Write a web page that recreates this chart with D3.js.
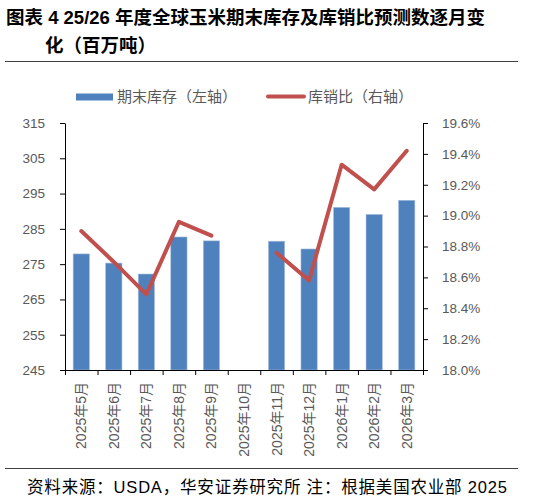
<!DOCTYPE html>
<html>
<head>
<meta charset="utf-8">
<script src="https://cdn.jsdelivr.net/npm/d3@7"></script>
<style>
  body { margin: 0; background: #fff; }
  text { font-family: "Liberation Sans", "Noto Sans CJK SC", sans-serif; }
</style>
</head>
<body>
<div id="chart"></div>
<script>
'use strict';

// data
const months = ["2025年5月", "2025年6月", "2025年7月", "2025年8月", "2025年9月", "2025年10月",
  "2025年11月", "2025年12月", "2026年1月", "2026年2月", "2026年3月"];
const stocks = [277.9, 275.3, 272.2, 282.7, 281.6, null, 281.5, 279.3, 291.1, 289.1, 293.1];
const ratio = [18.90, 18.70, 18.49, 18.96, 18.87, null, 18.76, 18.58, 19.33, 19.17, 19.42];
const leftTicks = [245, 255, 265, 275, 285, 295, 305, 315];
const rightTicks = [18.0, 18.2, 18.4, 18.6, 18.8, 19.0, 19.2, 19.4, 19.6];

const W = 541, H = 500;
const plot = {left: 65, right: 423, top: 123, bottom: 370};
const grey = "#595959";

const svg = d3.select("#chart").append("svg")
  .attr("width", W)
  .attr("height", H);

// title
const title = svg.append("text")
  .attr("font-family", "'Noto Sans CJK SC', sans-serif")
  .attr("font-weight", "bold")
  .attr("font-size", 18.5)
  .attr("fill", "#000");
title.append("tspan").attr("x", 6).attr("y", 24).text("图表 4 25/26 年度全球玉米期末库存及库销比预测数逐月变");
title.append("tspan").attr("x", 45).attr("y", 52).text("化（百万吨）");

svg.append("line")
  .attr("x1", 5).attr("x2", 518).attr("y1", 61.5).attr("y2", 61.5)
  .attr("stroke", "#404040").attr("stroke-width", 1);

// scales
const x = d3.scaleBand().domain(months)
  .range([plot.left, plot.right])
  .paddingInner(0.5).paddingOuter(0.25);
const xEdge = d3.scaleLinear().domain([0, months.length]).range([plot.left, plot.right]);
const yL = d3.scaleLinear().domain([245, 315]).range([plot.bottom, plot.top]);
const yR = d3.scaleLinear().domain([18.0, 19.6]).range([plot.bottom, plot.top]);

// bars
svg.append("g").selectAll("rect")
  .data(months.map((m, i) => ({m, v: stocks[i]})).filter(d => d.v != null))
  .enter().append("rect")
  .attr("x", d => x(d.m))
  .attr("y", d => yL(d.v))
  .attr("width", x.bandwidth())
  .attr("height", d => yL(245) - yL(d.v))
  .attr("fill", "#4F81BD")
  .attr("stroke", "#a9c0de")
  .attr("stroke-width", 0.6);

// line
const line = d3.line()
  .defined(d => d.v != null)
  .x(d => x(d.m) + x.bandwidth() / 2)
  .y(d => yR(d.v));
svg.append("path")
  .datum(months.map((m, i) => ({m, v: ratio[i]})))
  .attr("d", line)
  .attr("fill", "none")
  .attr("stroke", "#C0504D")
  .attr("stroke-width", 4)
  .attr("stroke-linecap", "round")
  .attr("stroke-linejoin", "round");

// axes
const styleAxis = g => {
  g.select(".domain").attr("stroke", "#000");
  g.selectAll(".tick line").attr("stroke", "#000");
  g.selectAll(".tick text").attr("fill", grey).attr("font-size", 13.5);
};

svg.append("g")
  .attr("transform", `translate(${plot.left},0)`)
  .call(d3.axisLeft(yL).tickValues(leftTicks).tickSize(5).tickSizeOuter(0).tickPadding(15))
  .call(styleAxis);

svg.append("g")
  .attr("transform", `translate(${plot.right},0)`)
  .call(d3.axisRight(yR).tickValues(rightTicks).tickSize(5).tickSizeOuter(0).tickPadding(14)
    .tickFormat(d => d.toFixed(1) + "%"))
  .call(styleAxis);

svg.append("g")
  .attr("transform", `translate(0,${plot.bottom})`)
  .call(d3.axisBottom(xEdge).tickValues(d3.range(0, months.length + 1)).tickSize(5).tickSizeOuter(0).tickFormat(""))
  .call(styleAxis);

// category labels
svg.append("g").selectAll("text")
  .data(months)
  .enter().append("text")
  .attr("transform", d => `translate(${x(d) + x.bandwidth() / 2 + 5},382) rotate(-90)`)
  .attr("text-anchor", "end")
  .attr("font-size", 14)
  .attr("fill", grey)
  .text(d => d);

// legend
svg.append("rect")
  .attr("x", 76).attr("y", 93.5).attr("width", 37).attr("height", 7)
  .attr("fill", "#4F81BD");
svg.append("text")
  .attr("x", 117).attr("y", 102)
  .attr("font-size", 15).attr("fill", grey)
  .text("期末库存（左轴）");
svg.append("line")
  .attr("x1", 268).attr("x2", 304).attr("y1", 96.5).attr("y2", 96.5)
  .attr("stroke", "#C0504D").attr("stroke-width", 4).attr("stroke-linecap", "round");
svg.append("text")
  .attr("x", 308).attr("y", 102)
  .attr("font-size", 15).attr("fill", grey)
  .text("库销比（右轴）");

// footer
svg.append("line")
  .attr("x1", 5).attr("x2", 518).attr("y1", 468.5).attr("y2", 468.5)
  .attr("stroke", "#404040").attr("stroke-width", 1);
svg.append("text")
  .attr("x", 27).attr("y", 493)
  .attr("font-size", 16.5).attr("fill", "#000")
  .attr("textLength", 480).attr("lengthAdjust", "spacing")
  .text("资料来源：USDA，华安证券研究所 注：根据美国农业部 2025");
</script>
</body>
</html>
